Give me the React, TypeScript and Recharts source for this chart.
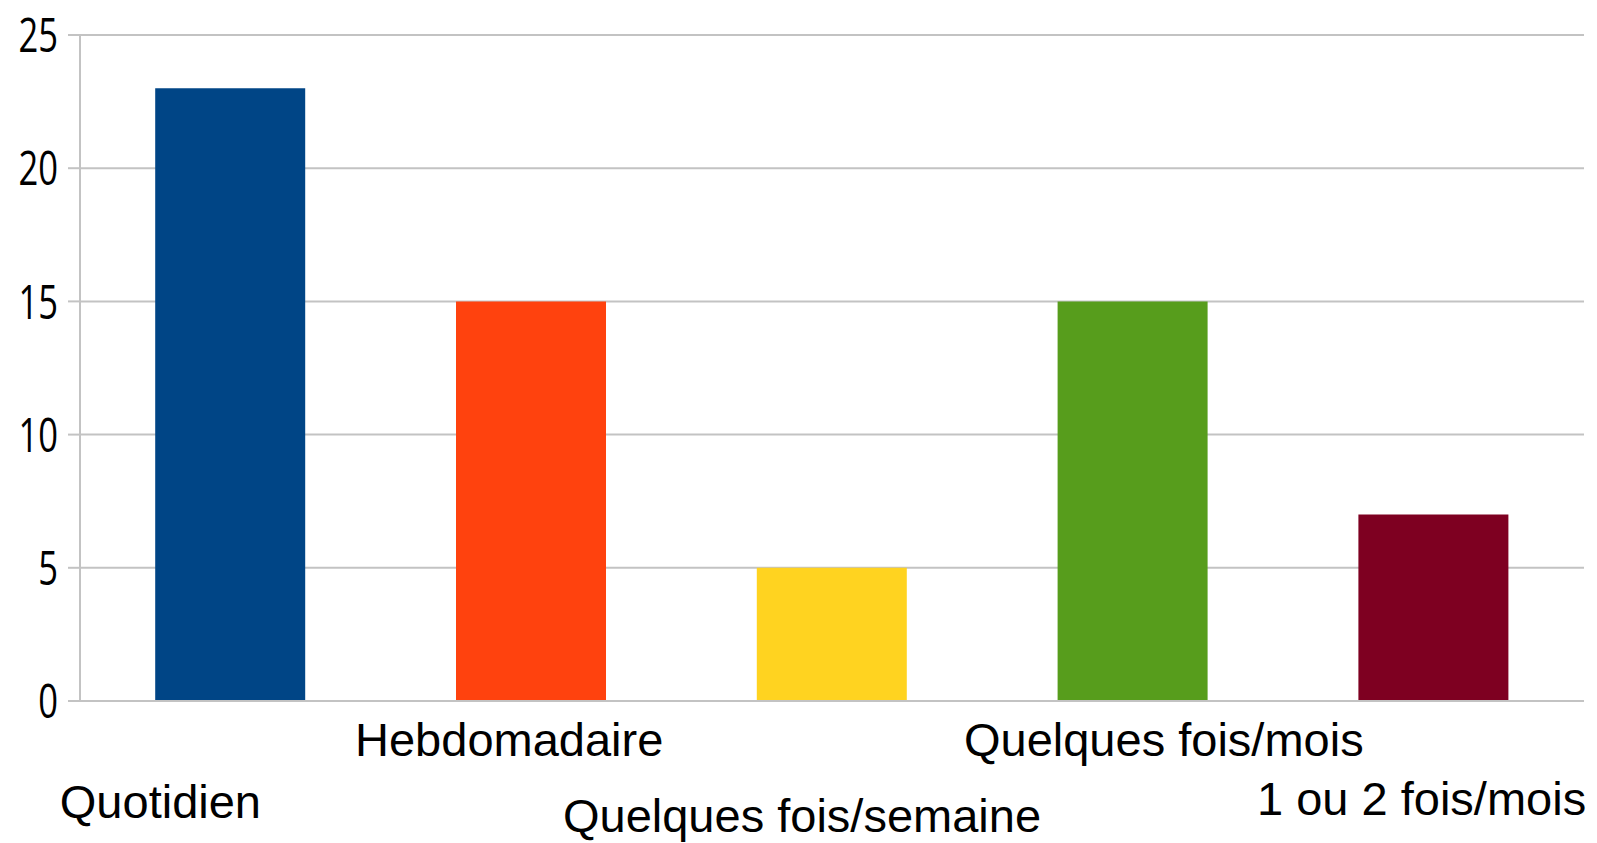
import React from "react";
import {
  BarChart,
  Bar,
  Cell,
  XAxis,
  YAxis,
  CartesianGrid,
} from "recharts";

const categories = [
  "Quotidien",
  "Hebdomadaire",
  "Quelques fois/semaine",
  "Quelques fois/mois",
  "1 ou 2 fois/mois",
];
const counts = [23, 15, 5, 15, 7];
const yTicks = [0, 5, 10, 15, 20, 25];
const boundaryTicks = [0, 1, 2, 3, 4, 5];

const COLORS = ["#004586", "#ff420e", "#ffd320", "#579d1c", "#7e0021"];
const GRID = "#c3c3c3";

// staggered label placement (dx from category centre, dy to baseline)
const LABEL_NUDGE: [number, number][] = [
  [-70, 117],
  [-22, 55],
  [-30, 131],
  [31, 55],
  [-12, 114],
];

const data = categories.map((name, i) => ({ name, value: counts[i], idx: i }));

function CategoryTick(props: any) {
  const { x, y, index, payload } = props;
  const [dx, dy] = LABEL_NUDGE[index] || [0, 60];
  return (
    <text
      x={x + dx}
      y={y + dy}
      textAnchor="middle"
      fontFamily="'Liberation Sans', Arial, sans-serif"
      fontSize={47}
      fill="#000"
    >
      {payload.value}
    </text>
  );
}

function ValueTick(props: any) {
  const { x, y, payload } = props;
  return (
    <text
      transform={`translate(${x},${y}) scale(0.72,1)`}
      textAnchor="end"
      dy="0.36em"
      fontFamily="'Open Sans', sans-serif"
      fontSize={48}
      fill="#000"
    >
      {payload.value}
    </text>
  );
}

function BoundaryTick(props: any) {
  const { x, y, payload } = props;
  const edge = payload.value === 0 || payload.value === 5;
  return <line x1={x} x2={x} y1={y} y2={y + (edge ? 11 : 3)} stroke={GRID} strokeWidth={2} />;
}

export default function App() {
  return (
    <div style={{ position: "absolute", left: 0, top: 0, background: "#fff" }}>
      <BarChart
        width={1597}
        height={843}
        data={data}
        margin={{ top: 35, right: 13, bottom: 0, left: 0 }}
        barCategoryGap="25%"
      >
        <CartesianGrid vertical={false} stroke={GRID} strokeWidth={2} yAxisId="l" />
        <XAxis
          xAxisId="edges"
          type="number"
          dataKey="idx"
          domain={[0, 5]}
          ticks={boundaryTicks}
          axisLine={false}
          tickLine={false}
          tickSize={0}
          tickMargin={0}
          tick={<BoundaryTick />}
          height={0}
          interval={0}
        />
        <XAxis
          dataKey="name"
          interval={0}
          height={142}
          axisLine={{ stroke: GRID, strokeWidth: 2 }}
          tickLine={false}
          tickSize={0}
          tickMargin={0}
          tick={<CategoryTick />}
        />
        <YAxis
          yAxisId="l"
          domain={[0, 25]}
          ticks={yTicks}
          width={80}
          tickSize={12}
          tickMargin={10}
          axisLine={{ stroke: GRID, strokeWidth: 2 }}
          tickLine={{ stroke: GRID, strokeWidth: 2 }}
          tick={<ValueTick />}
        />
        <YAxis
          yAxisId="r"
          orientation="right"
          domain={[0, 25]}
          width={0}
          tick={false}
          tickLine={false}
          axisLine={{ stroke: GRID, strokeWidth: 2 }}
        />
        <Bar dataKey="value" yAxisId="l" isAnimationActive={false}>
          {data.map((d, i) => (
            <Cell key={d.name} fill={COLORS[i]} />
          ))}
        </Bar>
      </BarChart>
    </div>
  );
}
